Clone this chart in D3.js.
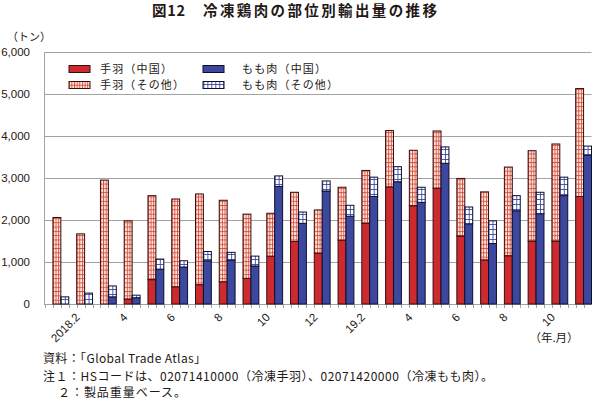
<!DOCTYPE html>
<html>
<head>
  <meta charset="UTF-8">
  <title>冷凍鶏肉の部位別輸出量の推移</title>
  <style>
    body { margin: 0; background: #fff; }
    text { font-family: "Noto Sans CJK JP", "Noto Sans", sans-serif; fill: #231815; }
    .num { font-family: "Liberation Sans", Arial, sans-serif; }
  </style>
</head>
<body>
  <svg width="592" height="399"></svg>
  <script src="https://d3js.org/d3.v7.min.js"></script>
  <script>
    // months 2018.1 - 2019.11, label shown every other month
    const monthLabels = ["", "2018.2", "", "4", "", "6", "", "8", "", "10", "", "12",
                         "", "19.2", "", "4", "", "6", "", "8", "", "10", ""];
    // tonnes
    const wingChina = [0, 0, 0, 120, 580, 410, 460, 530, 610, 1140, 1490, 1210,
                       1520, 1920, 2790, 2340, 2760, 1620, 1050, 1150, 1500, 1500, 2560];
    const wingOther = [2060, 1670, 2950, 1860, 2000, 2090, 2160, 1940, 1530, 1020, 1170, 1030,
                       1260, 1260, 1340, 1320, 1360, 1370, 1620, 2110, 2150, 2310, 2570];
    const legChina  = [0, 0, 170, 150, 830, 880, 1030, 1040, 905, 2800, 1920, 2690,
                       2090, 2560, 2910, 2420, 3350, 1910, 1440, 2220, 2150, 2580, 3540];
    const legOther  = [170, 260, 260, 60, 240, 150, 220, 190, 235, 250, 270, 240,
                       260, 460, 360, 360, 390, 400, 540, 360, 510, 440, 220];
    const yTicks = [0, 1000, 2000, 3000, 4000, 5000, 6000];

    const svg = d3.select('svg');

    const x = d3.scaleBand().domain(d3.range(monthLabels.length)).range([45, 591.5]).padding(0);
    const y = d3.scaleLinear().domain([0, 6000]).range([304, 52]);
    const slot = x.bandwidth() / 3;
    const x0 = x.range()[0];

    // patterns for the "other" parts
    const defs = svg.append('defs');
    const pWing = defs.append('pattern')
      .attr('id', 'wingOther')
      .attr('patternUnits', 'userSpaceOnUse')
      .attr('x', x0).attr('y', y(0))
      .attr('width', slot / 3).attr('height', 4.3);
    pWing.append('rect').attr('width', slot / 3).attr('height', 4.3).attr('fill', '#fdece0');
    pWing.append('line').attr('x1', 0.5).attr('x2', 0.5).attr('y1', 0).attr('y2', 4.3)
      .attr('stroke', '#d8483c').attr('stroke-width', 0.9);
    pWing.append('line').attr('x1', 0).attr('x2', slot / 3).attr('y1', 0.5).attr('y2', 0.5)
      .attr('stroke', '#d8483c').attr('stroke-width', 0.9);

    const pLeg = defs.append('pattern')
      .attr('id', 'legOther')
      .attr('patternUnits', 'userSpaceOnUse')
      .attr('x', x0).attr('y', y(0))
      .attr('width', slot / 2).attr('height', 5);
    pLeg.append('rect').attr('width', slot / 2).attr('height', 5).attr('fill', '#ffffff');
    pLeg.append('line').attr('x1', 0.5).attr('x2', 0.5).attr('y1', 0).attr('y2', 5)
      .attr('stroke', '#3a49a0').attr('stroke-width', 0.9);
    pLeg.append('line').attr('x1', 0).attr('x2', slot / 2).attr('y1', 0.5).attr('y2', 0.5)
      .attr('stroke', '#3a49a0').attr('stroke-width', 0.9);

    // title, in two parts to keep the wide gap of the original
    svg.append('text')
      .attr('x', 152).attr('y', 16)
      .attr('font-size', '14.5px')
      .attr('font-weight', 700)
      .attr('textLength', 33)
      .text('図12');
    svg.append('text')
      .attr('x', 203).attr('y', 16)
      .attr('font-size', '14.5px')
      .attr('font-weight', 700)
      .attr('textLength', 234)
      .text('冷凍鶏肉の部位別輸出量の推移');

    // unit
    svg.append('text')
      .attr('x', 7).attr('y', 41)
      .attr('font-size', '11px')
      .text('（トン）');

    // gridlines
    svg.append('g').selectAll('line')
      .data(yTicks.filter(d => d > 0))
      .join('line')
      .attr('x1', 44).attr('x2', 591.5)
      .attr('y1', d => y(d) + 0.5).attr('y2', d => y(d) + 0.5)
      .attr('stroke', '#a3a3a3');

    // y labels
    svg.append('g').selectAll('text')
      .data(yTicks)
      .join('text')
      .attr('class', 'num')
      .attr('x', 30).attr('y', d => y(d) + 4)
      .attr('text-anchor', 'end')
      .attr('font-size', '11.5px')
      .text(d => d3.format(',')(d));

    // axes lines
    svg.append('line').attr('x1', 44.5).attr('x2', 44.5).attr('y1', 52).attr('y2', 304.5)
      .attr('stroke', '#a3a3a3');
    svg.append('line').attr('x1', 44).attr('x2', 591.5).attr('y1', 304.5).attr('y2', 304.5)
      .attr('stroke', '#a3a3a3');

    // small ticks along the x axis
    svg.append('g').selectAll('line')
      .data(d3.range(monthLabels.length * 3 + 1))
      .join('line')
      .attr('x1', k => Math.round(x0 + k * slot) + 0.5)
      .attr('x2', k => Math.round(x0 + k * slot) + 0.5)
      .attr('y1', 304.5).attr('y2', 308)
      .attr('stroke', '#a3a3a3');

    // bars
    const stacks = [
      { china: wingChina, other: wingOther, off: 1, fill: '#cc2a2e', pat: 'url(#wingOther)', stroke: '#3a0d0d' },
      { china: legChina, other: legOther, off: 2, fill: '#3c489e', pat: 'url(#legOther)', stroke: '#0e0e30' }
    ];
    stacks.forEach(s => {
      const g = svg.append('g');
      g.selectAll('rect.c')
        .data(s.china.map((v, i) => ({ i, v })).filter(d => d.v > 0))
        .join('rect')
        .attr('class', 'c')
        .attr('x', d => x(d.i) + s.off * slot)
        .attr('width', slot)
        .attr('y', d => y(d.v))
        .attr('height', d => y(0) - y(d.v))
        .attr('fill', s.fill)
        .attr('stroke', s.stroke).attr('stroke-width', 1);
      g.selectAll('rect.o')
        .data(s.other.map((v, i) => ({ i, v, base: s.china[i] })))
        .join('rect')
        .attr('class', 'o')
        .attr('x', d => x(d.i) + s.off * slot)
        .attr('width', slot)
        .attr('y', d => y(d.base + d.v))
        .attr('height', d => y(d.base) - y(d.base + d.v))
        .attr('fill', s.pat)
        .attr('stroke', s.stroke).attr('stroke-width', 1);
    });

    // x labels
    svg.append('g').selectAll('text')
      .data(monthLabels.map((t, i) => ({ t, i })).filter(d => d.t !== ''))
      .join('text')
      .attr('class', 'num')
      .attr('font-size', '11.5px')
      .attr('text-anchor', 'end')
      .attr('transform', d => `translate(${x(d.i) + x.bandwidth() / 2}, 318) rotate(-45)`)
      .text(d => d.t);

    svg.append('text')
      .attr('x', 554).attr('y', 342)
      .attr('text-anchor', 'middle')
      .attr('font-size', '11.5px')
      .text('（年.月）');

    // legend
    const legend = [
      { label: '手羽（中国）', fill: '#cc2a2e', stroke: '#3a0d0d', lx: 69, ly: 65.5 },
      { label: '手羽（その他）', fill: 'url(#wingOther)', stroke: '#3a0d0d', lx: 69, ly: 81.5 },
      { label: 'もも肉（中国）', fill: '#3c489e', stroke: '#0e0e30', lx: 203, ly: 65.5 },
      { label: 'もも肉（その他）', fill: 'url(#legOther)', stroke: '#0e0e30', lx: 203, ly: 81.5 }
    ];
    const lg = svg.append('g').selectAll('g').data(legend).join('g');
    lg.append('rect')
      .attr('x', d => d.lx).attr('y', d => d.ly)
      .attr('width', 21).attr('height', 7)
      .attr('fill', d => d.fill)
      .attr('stroke', d => d.stroke);
    lg.append('text')
      .attr('x', d => d.lx + (d.lx > 100 ? 39 : 31)).attr('y', d => d.ly + 7.5)
      .attr('font-size', '11px')
      .attr('textLength', d => d.label.length * 12)
      .text(d => d.label);

    // notes
    const notes = [
      { t: '資料：「Global Trade Atlas」', x: 43, y: 363, w: 163 },
      { t: '注１：HSコードは、02071410000（冷凍手羽）、02071420000（冷凍もも肉）。', x: 43, y: 381, w: 450 },
      { t: '２：製品重量ベース。', x: 58, y: 397, w: 128 }
    ];
    svg.append('g').selectAll('text')
      .data(notes)
      .join('text')
      .attr('x', d => d.x).attr('y', d => d.y)
      .attr('font-size', '12px')
      .attr('textLength', d => d.w)
      .text(d => d.t);
  </script>
</body>
</html>
